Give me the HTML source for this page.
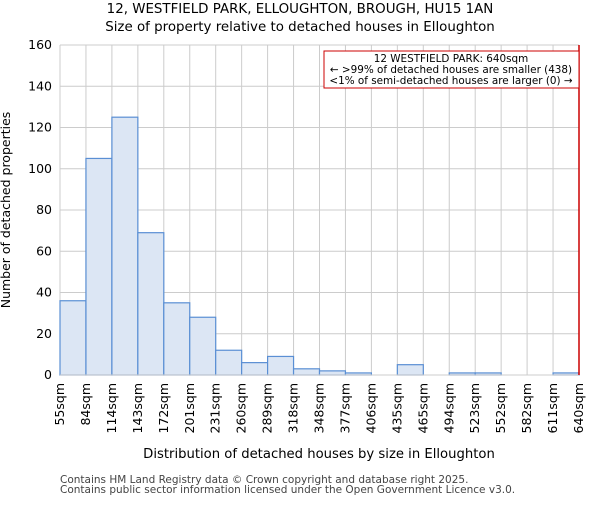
<!DOCTYPE html>
<html><head><meta charset="utf-8"><style>body{margin:0;background:#fff}svg{font-family:"DejaVu Sans","Liberation Sans",sans-serif}</style></head>
<body>
<svg id="c" width="600" height="500">
<text x="300" y="13" text-anchor="middle" font-size="13.4">12, WESTFIELD PARK, ELLOUGHTON, BROUGH, HU15 1AN</text>
<text x="300" y="31" text-anchor="middle" font-size="13.4">Size of property relative to detached houses in Elloughton</text>
<g id="grid"></g><g id="bars"></g><g id="ax"></g>
<text x="319" y="458" text-anchor="middle" font-size="13.2">Distribution of detached houses by size in Elloughton</text>
<text transform="translate(10,210) rotate(-90)" text-anchor="middle" font-size="12.5">Number of detached properties</text>
<rect x="324" y="51" width="255" height="37" fill="#fff" stroke="#c00"/>
<text x="451" y="62" text-anchor="middle" font-size="10.4">12 WESTFIELD PARK: 640sqm</text>
<text x="451" y="73" text-anchor="middle" font-size="10.4">← &gt;99% of detached houses are smaller (438)</text>
<text x="451" y="84" text-anchor="middle" font-size="10.4">&lt;1% of semi-detached houses are larger (0) →</text>
<text x="60" y="483" font-size="10.5" fill="#444">Contains HM Land Registry data © Crown copyright and database right 2025.</text>
<text x="60" y="493" font-size="10.5" fill="#444">Contains public sector information licensed under the Open Government Licence v3.0.</text>
</svg>
<script>
const categories=["55sqm","84sqm","114sqm","143sqm","172sqm","201sqm","231sqm","260sqm","289sqm","318sqm","348sqm","377sqm","406sqm","435sqm","465sqm","494sqm","523sqm","552sqm","582sqm","611sqm","640sqm"];
const counts=[36,105,125,69,35,28,12,6,9,3,2,1,0,5,0,1,1,0,0,1];
const yTicks=[0,20,40,60,80,100,120,140,160];
const markerIndex=20;
const X0=60,X1=579,Y0=375,Y1=45,NS="http://www.w3.org/2000/svg";
const bw=(X1-X0)/counts.length;
const xs=i=>X0+i*bw, ys=v=>Y0-(v/160)*(Y0-Y1);
function mk(t,a,p){const e=document.createElementNS(NS,t);for(const k in a)e.setAttribute(k,a[k]);p.appendChild(e);return e;}
const g=document.getElementById('grid'),b=document.getElementById('bars'),ax=document.getElementById('ax');
yTicks.forEach(v=>{const l=mk('line',{x1:X0,x2:X1,y1:ys(v),y2:ys(v),stroke:'#ccc'},g);

const t=mk('text',{x:X0-8,y:ys(v)+4,'text-anchor':'end','font-size':12.5},ax);t.textContent=v;
});
categories.forEach((c,i)=>{const l=mk('line',{x1:xs(i),x2:xs(i),y1:Y1,y2:Y0,stroke:'#ccc'},g);

const t=mk('text',{transform:`translate(${xs(i)+4},${Y0+8}) rotate(-90)`,'text-anchor':'end','font-size':12.5},ax);t.textContent=c;
});
counts.forEach((v,i)=>{if(v<=0)return;const r=mk('rect',{x:xs(i),y:ys(v),width:bw,height:Y0-ys(v),fill:'#dce6f4',stroke:'#5a8fd4','stroke-width':1.2},b);
});
const a=mk('line',{x1:X0,x2:X1,y1:Y0,y2:Y0,stroke:'#ccc'},ax);
const m=mk('line',{x1:xs(markerIndex),x2:xs(markerIndex),y1:Y1,y2:Y0,stroke:'#c00','stroke-width':1.5},ax);

</script>
</body></html>
